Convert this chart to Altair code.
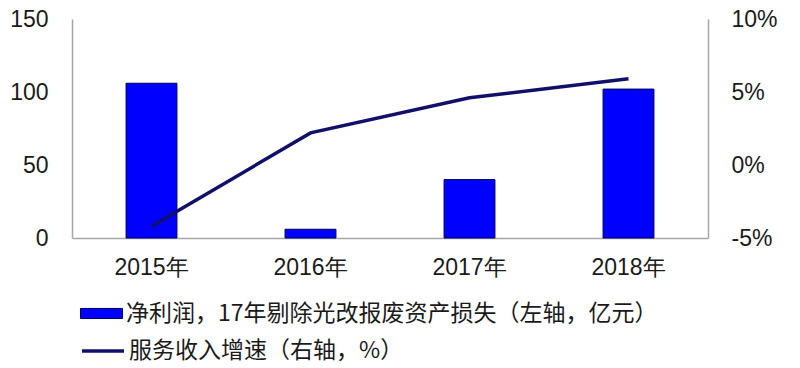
import altair as alt
import pandas as pd

years = ["2015年", "2016年", "2017年", "2018年"]
profit = [106, 6, 40, 102]
growth = [-4.2, 2.2, 4.6, 5.9]
bar_label = "净利润，17年剔除光改报废资产损失（左轴，亿元）"
line_label = "服务收入增速（右轴，%）"

df = pd.DataFrame({
    "year": years,
    "profit": profit,
    "growth": growth,
    "s1": [bar_label] * len(years),
    "s2": [line_label] * len(years),
})

AX = "#a6a6a6"
TXT = "#1a1a1a"
NUM_FONT = "Liberation Sans"
CJK = "Noto Sans CJK SC"

x = alt.X(
    "year:N", sort=years,
    scale=alt.Scale(paddingInner=0.68, paddingOuter=0.34),
    axis=alt.Axis(title=None, labelAngle=0, labelFontSize=23, labelPadding=18,
                  ticks=False, domainColor=AX, domainWidth=1.5, labelColor=TXT,
                  labelFont=NUM_FONT, grid=False),
)

bars = alt.Chart(df).mark_bar(stroke="#00005a", strokeWidth=1, color="#0000ff").encode(
    x=x,
    y=alt.Y("profit:Q", scale=alt.Scale(domain=[0, 150]),
            axis=alt.Axis(title=None, orient="left", values=[0, 50, 100, 150], grid=False,
                          ticks=False, labelPadding=24, domainColor=AX, domainWidth=1.5,
                          labelFontSize=23, labelFont=NUM_FONT, labelColor=TXT)),
    fill=alt.Fill("s1:N", scale=alt.Scale(range=["#0000ff"]),
                  legend=alt.Legend(title=None, orient="none", legendX=8, legendY=273,
                                    symbolType="M-1,-0.24H1V0.24H-1Z", symbolSize=1764,
                                    symbolStrokeColor="#00005a", symbolStrokeWidth=1,
                                    labelFont=CJK, labelFontSize=23, labelColor=TXT,
                                    labelLimit=900, labelOffset=3, padding=0)),
)

line = alt.Chart(df).mark_line(strokeWidth=3.5).encode(
    x=x,
    y=alt.Y("growth:Q", scale=alt.Scale(domain=[-5, 10]),
            axis=alt.Axis(title=None, orient="right", values=[-5, 0, 5, 10], grid=False,
                          ticks=False, labelPadding=23, domainColor=AX, domainWidth=1.5,
                          labelExpr="datum.value + '%'",
                          labelFontSize=23, labelFont=NUM_FONT, labelColor=TXT)),
    stroke=alt.Stroke("s2:N", scale=alt.Scale(range=["#10106a"]),
                      legend=alt.Legend(title=None, orient="none", legendX=8, legendY=309,
                                        symbolType="stroke", symbolSize=1764,
                                        symbolStrokeWidth=3.5,
                                        labelFont=CJK, labelFontSize=23, labelColor=TXT,
                                        labelLimit=900, labelOffset=3, padding=0)),
)

chart = alt.layer(bars, line).resolve_scale(y="independent").properties(
    width=636, height=219,
    autosize=alt.AutoSizeParams(type="none"),
    padding={"left": 72, "top": 19, "right": 92, "bottom": 130},
    background="white",
).configure_view(stroke=None)

chart.save("out.html", embed_options={"renderer": "svg", "actions": False})
